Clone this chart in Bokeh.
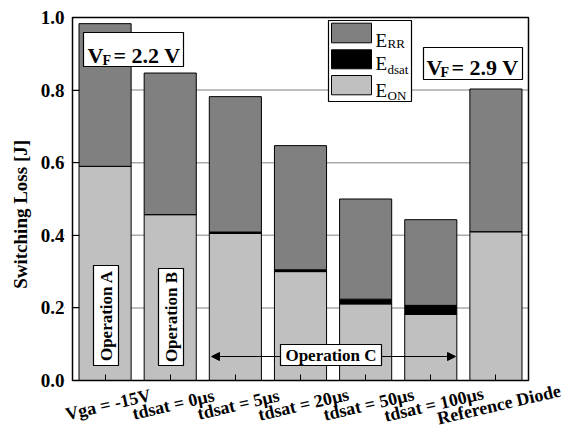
import math
from bokeh.plotting import figure
from bokeh.models import (Range1d, Label, BoxAnnotation, Arrow, NormalHead,
                          FixedTicker, ColumnDataSource)
from bokeh.core.properties import value
from bokeh.embed import file_html
from bokeh.resources import INLINE

# ---- data ----
categories = ["Vga = -15V", "tdsat = 0μs", "tdsat = 5μs", "tdsat = 20μs",
              "tdsat = 50μs", "tdsat = 100μs", "Reference Diode"]
e_on = [0.590, 0.457, 0.405, 0.300, 0.211, 0.182, 0.410]
e_dsat = [0.000, 0.000, 0.004, 0.005, 0.013, 0.025, 0.000]
e_rr = [0.393, 0.390, 0.373, 0.342, 0.276, 0.236, 0.393]
y_ticks = [0.0, 0.2, 0.4, 0.6, 0.8, 1.0]
grid_ticks = [0.2, 0.4, 0.6, 0.8]

FONT = "Liberation Serif"
C_RR, C_DSAT, C_ON = "#808080", "#000000", "#c0c0c0"

# pixel -> data helpers: bar area spans px 72..528 (x -0.5..6.5), py 380..17 (y 0..1)
def dx(px):
    return -0.5 + (px - 72) * 7.0 / 456.0

def dy(py):
    return (380 - py) / 363.0

# the frame is extended beyond the bar area so that the rotated category
# texts can be drawn as glyphs; the bar-area border is drawn as a box
FL, FT = 64, 15
p = figure(width=562, height=427, output_backend="svg", toolbar_location=None,
           x_range=Range1d(dx(FL), dx(562)), y_range=Range1d(dy(427), dy(FT)),
           min_border_left=FL, min_border_right=0, min_border_top=FT,
           min_border_bottom=0)
p.outline_line_color = None
p.background_fill_color = "white"
p.xgrid.visible = False
p.ygrid.visible = False

xs = list(range(len(categories)))
n = len(categories)

# horizontal grid lines restricted to the bar area
gsrc = ColumnDataSource(dict(x0=[-0.5] * len(grid_ticks), x1=[n - 0.5] * len(grid_ticks),
                             y=grid_ticks))
gr = p.segment(x0="x0", y0="y", x1="x1", y1="y", source=gsrc,
               line_color="#aaaaaa", line_width=1.5)
gr.level = "underlay"

src = ColumnDataSource(dict(x=xs, on=e_on, dsat=e_dsat, rr=e_rr))
p.vbar_stack(["on", "dsat", "rr"], x="x", width=0.8, source=src,
             fill_color=[C_ON, C_DSAT, C_RR], line_color="black", line_width=1)

# y axis
p.yaxis.ticker = FixedTicker(ticks=y_ticks)
p.yaxis.major_label_overrides = {t: f"{t:.1f}" for t in y_ticks}
p.yaxis.major_tick_in = 72 + 7 - FL
p.yaxis.major_tick_out = 0
p.yaxis.major_tick_line_color = "black"
p.yaxis.minor_tick_line_color = None
p.yaxis.axis_line_color = None
p.yaxis.major_label_text_font = FONT
p.yaxis.major_label_text_font_style = "bold"
p.yaxis.major_label_text_font_size = "19px"
p.yaxis.major_label_text_color = "black"
p.yaxis.major_label_standoff = 0
p.yaxis.axis_label = "\u00a0" * 3 + "Switching Loss [J]"
p.yaxis.axis_label_text_font = FONT
p.yaxis.axis_label_text_font_style = "bold"
p.yaxis.axis_label_text_font_size = "19px"
p.yaxis.axis_label_text_color = "black"
p.yaxis.axis_label_standoff = 7

# x axis: ticks only, at y = 0
p.xaxis.ticker = FixedTicker(ticks=xs)
p.xaxis.fixed_location = 0
p.xaxis.major_tick_in = 6
p.xaxis.major_tick_out = 0
p.xaxis.major_tick_line_color = "black"
p.xaxis.minor_tick_line_color = None
p.xaxis.axis_line_color = None
p.xaxis.major_label_text_color = None
p.xaxis.major_label_text_font_size = "0px"
p.xaxis.major_label_standoff = 0

# rotated category labels
lab_src = ColumnDataSource(dict(x=xs, y=[dy(404)] * n, t=categories))
p.text(x="x", y="y", text="t", source=lab_src, angle=math.radians(13),
       x_offset=3, text_align="center", text_baseline="middle", text_color="black",
       text_font=value(FONT), text_font_style="bold", text_font_size="18px")


def box(l, r, t, b, fill="white", lw=1.2, alpha=1.0, line="black"):
    p.add_layout(BoxAnnotation(left=dx(l), right=dx(r), top=dy(t), bottom=dy(b),
                               fill_color=fill, fill_alpha=alpha,
                               line_color=line, line_width=lw, line_alpha=1.0,
                               line_dash="solid"))


def lab(px, py, text, size, bold=True, align="left", baseline="alphabetic", angle=0.0):
    p.add_layout(Label(x=dx(px), y=dy(py), text=text, angle=angle,
                       text_align=align, text_baseline=baseline,
                       text_font=FONT, text_font_style="bold" if bold else "normal",
                       text_font_size=size, text_color="black"))


# hide the part of the y ticks left of the bar area
box(FL - 1, 71.4, 12, 384, fill="white", lw=0, line=None)

# border of the bar area
p.add_layout(BoxAnnotation(left=-0.5, right=n - 0.5, bottom=0, top=1.0,
                           fill_alpha=0.0, line_color="black", line_width=1.5,
                           line_alpha=1.0, line_dash="solid"))

# Operation C arrow + box
p.add_layout(Arrow(start=NormalHead(size=8, fill_color="black", line_color="black"),
                   end=NormalHead(size=8, fill_color="black", line_color="black"),
                   x_start=dx(211), y_start=dy(356), x_end=dx(455), y_end=dy(356),
                   line_color="black", line_width=1))
box(280, 381, 344, 365)
lab(330.5, 355, "Operation C", "17px", align="center", baseline="middle")

# Operation A / B
box(93, 118, 265, 365)
lab(105.5, 315, "Operation A", "17px", align="center", baseline="middle", angle=math.pi / 2)
box(158, 183, 268, 365)
lab(170.5, 316.5, "Operation B", "17px", align="center", baseline="middle", angle=math.pi / 2)

# V_F boxes
box(83, 183, 32, 66)
lab(87, 55, "V", "22px")
lab(102, 60, "F", "14px")
lab(113, 55, "= 2.2 V", "22px")
box(423, 522, 47, 79)
lab(426, 67, "V", "22px")
lab(440, 72, "F", "14px")
lab(451, 67, "= 2.9 V", "22px")

# manual legend
box(328, 411, 20, 101)
for (t, b, col, sub, eb, sb) in [(22.7, 42.3, C_RR, "RR", 39.5, 42.5),
                                 (49.3, 68.3, C_DSAT, "dsat", 63, 68.5),
                                 (75, 94.3, C_ON, "ON", 90, 95)]:
    box(331, 371, t, b, fill=col, lw=1)
    lab(375, eb, "E", "19px", bold=False)
    lab(387, sb, sub, "13px", bold=False)

open("out.html", "w").write(file_html(p, INLINE))
